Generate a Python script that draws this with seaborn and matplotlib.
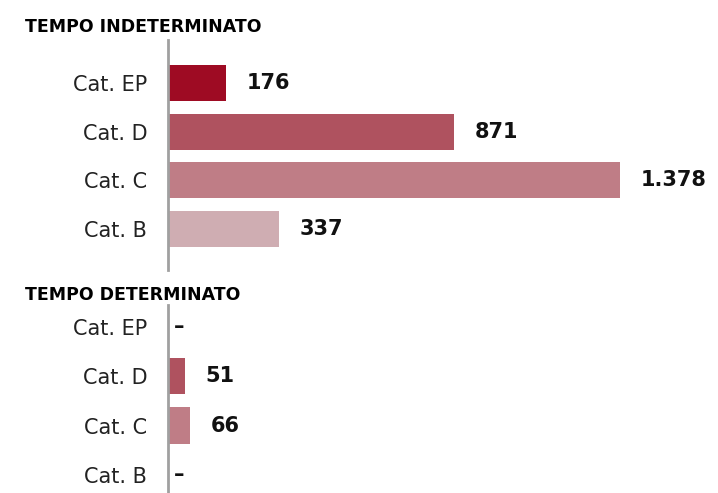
import matplotlib
matplotlib.use("Agg")
import matplotlib.pyplot as plt
import seaborn as sns
import pandas as pd

categories = ["Cat. EP", "Cat. D", "Cat. C", "Cat. B"]
indeterminato = [176, 871, 1378, 337]
determinato = [0, 51, 66, 0]
colors = ["#9E0B23", "#AF525F", "#BF7D86", "#CFADB2"]
titles = ["TEMPO INDETERMINATO", "TEMPO DETERMINATO"]

sns.set_style("white")
plt.rcParams["font.family"] = ["DejaVu Sans"]

W, H = 718, 493
fig = plt.figure(figsize=(W / 100, H / 100), dpi=100)

def fig_axes(left, top, right, bottom):
    return fig.add_axes([left / W, 1 - bottom / H, (right - left) / W, (bottom - top) / H])

ax1 = fig_axes(168, 40, 718, 270)
ax2 = fig_axes(168, 305, 718, 493)
palette = dict(zip(categories, colors))

def fmt(v):
    if v == 0:
        return "–"
    return f"{v:,}".replace(",", ".")

for ax, vals, ylim in [(ax1, indeterminato, (3.84, -0.883)), (ax2, determinato, (3.37, -0.446))]:
    df = pd.DataFrame({"cat": categories, "val": vals})
    sns.barplot(data=df, y="cat", x="val", hue="cat", palette=palette, order=categories,
                hue_order=categories, width=0.74, orient="h", legend=False, ax=ax,
                saturation=1, linewidth=0)
    ax.set_xlim(0, 1677)
    ax.set_ylim(*ylim)
    ax.set_xlabel("")
    ax.set_ylabel("")
    ax.set_xticks([])
    for s in ["top", "right", "bottom"]:
        ax.spines[s].set_visible(False)
    ax.spines["left"].set_color("#A0A0A0")
    ax.spines["left"].set_linewidth(2)
    ax.tick_params(axis="y", length=0, pad=15, labelsize=15, labelcolor="#222222")
    for cont in ax.containers:
        v = cont.datavalues[0]
        ax.bar_label(cont, labels=[fmt(int(v))], padding=15 if v else 4,
                     fontsize=15, fontweight="bold", color="#111111")

fig.text(25 / W, 1 - 27 / H, titles[0], fontsize=12.5, fontweight="bold", va="center", ha="left", color="black")
fig.text(25 / W, 1 - 295 / H, titles[1], fontsize=12.5, fontweight="bold", va="center", ha="left", color="black")

fig.savefig("out.png", dpi=100)
